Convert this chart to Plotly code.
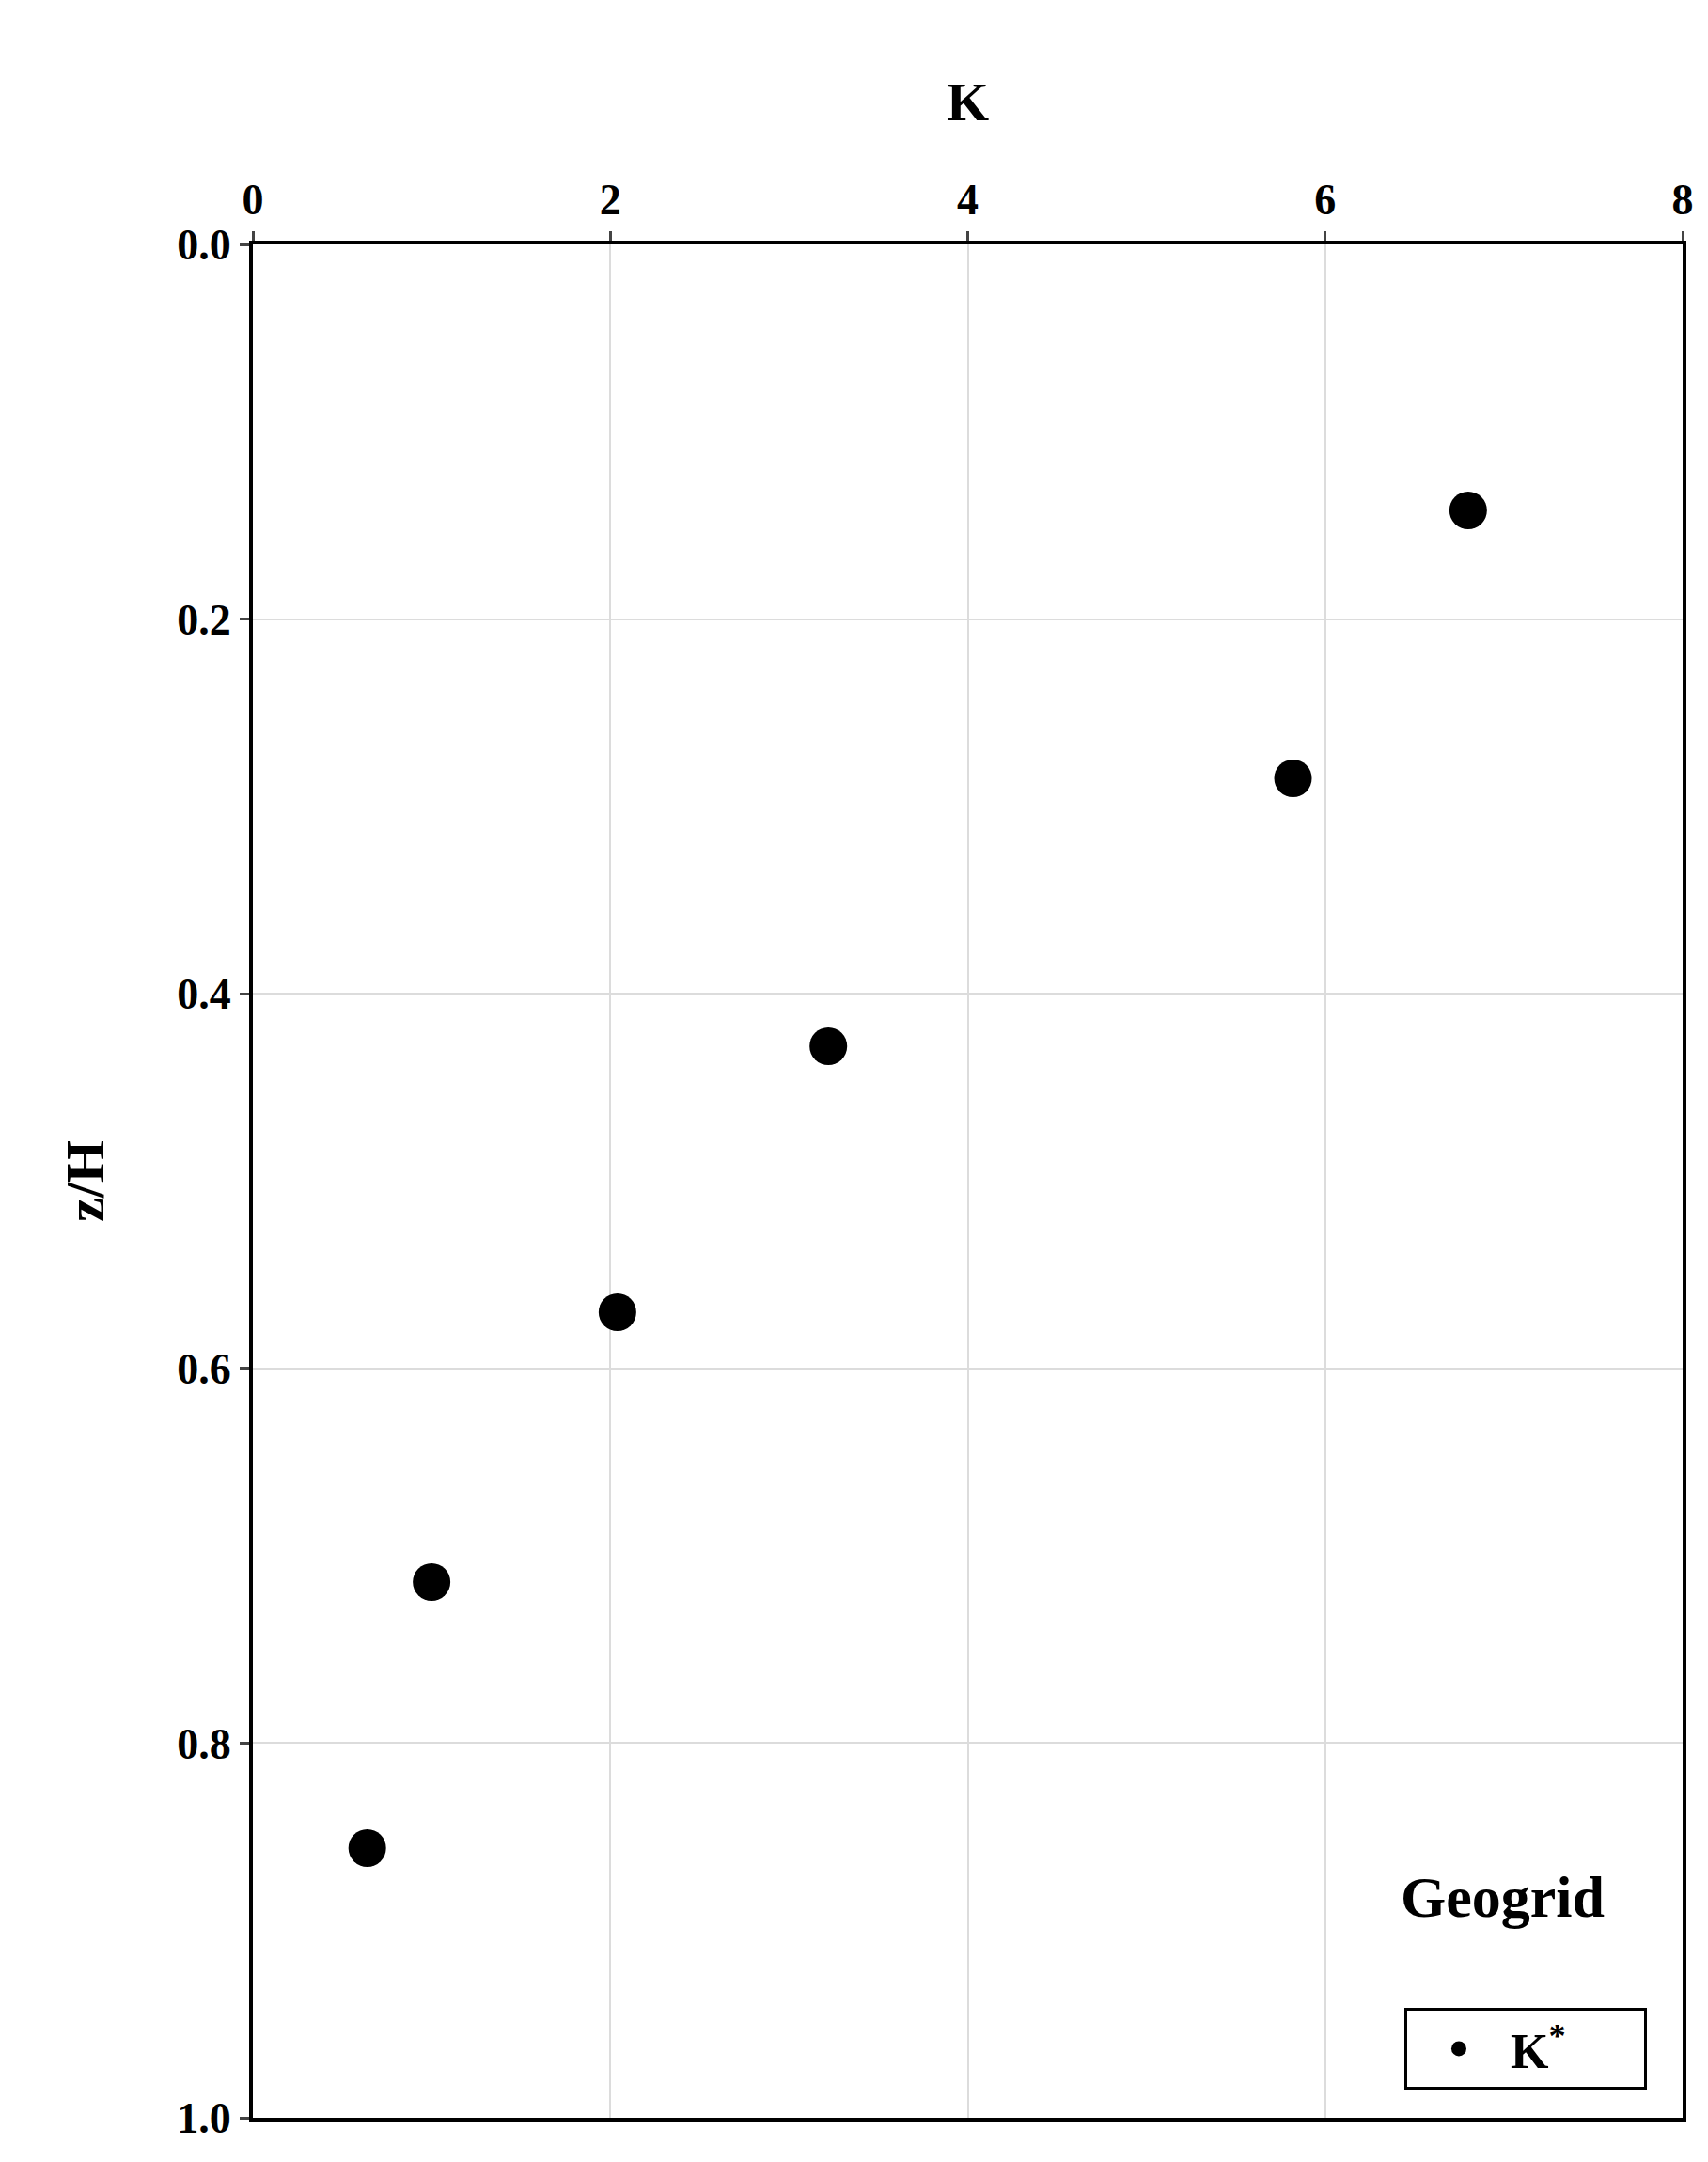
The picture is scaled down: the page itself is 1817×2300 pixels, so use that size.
import plotly.graph_objects as go

K = [6.80, 5.82, 3.22, 2.04, 1.00, 0.64]
zH = [0.142, 0.285, 0.428, 0.570, 0.714, 0.856]
xticks = [0, 2, 4, 6, 8]
yticks = [0.0, 0.2, 0.4, 0.6, 0.8, 1.0]

F = "Liberation Serif"
fig = go.Figure()
fig.add_trace(go.Scatter(x=K, y=zH, mode="markers", name="K<sup>*</sup>      ",
                         marker=dict(color="black", size=40), showlegend=True))
W, H = 1817, 2300
l, r, t, b = 261, 1782, 252, 2245
fig.update_layout(
    width=W, height=H, plot_bgcolor="white", paper_bgcolor="white",
    margin=dict(l=l, r=W - r, t=t, b=H - b, autoexpand=False),
    font=dict(family=F, size=44, color="black"),
    showlegend=True,
    xaxis=dict(side="top", range=[0, 8], tickvals=xticks, showgrid=True, gridcolor="#dcdcdc",
               gridwidth=2, showline=True, linecolor="black", linewidth=4, mirror=True,
               ticks="outside", ticklen=10, tickwidth=3, zeroline=False,
               tickfont=dict(family=F, size=46, weight="bold"),
               title=dict(text="<b>K</b>", font=dict(family=F, size=58), standoff=40)),
    yaxis=dict(range=[1, 0], tickvals=yticks, tickformat=".1f", showgrid=True, gridcolor="#dcdcdc",
               gridwidth=2, showline=True, linecolor="black", linewidth=4, mirror=True,
               ticks="outside", ticklen=10, tickwidth=3, zeroline=False,
               tickfont=dict(family=F, size=46, weight="bold"),
               title=dict(text="<b>z/H</b>", font=dict(family=F, size=58), standoff=60)),
    legend=dict(x=0.975, y=0.015, xanchor="right", yanchor="bottom", bordercolor="black",
                borderwidth=3, bgcolor="white", font=dict(family=F, size=52, weight="bold"),
                itemwidth=100, tracegroupgap=0),
    annotations=[dict(text="<b>Geogrid</b>", x=0.874, y=0.118, xref="paper", yref="paper",
                      xanchor="center", yanchor="middle", showarrow=False,
                      font=dict(family=F, size=62))],
)
fig.write_html("out.html")
